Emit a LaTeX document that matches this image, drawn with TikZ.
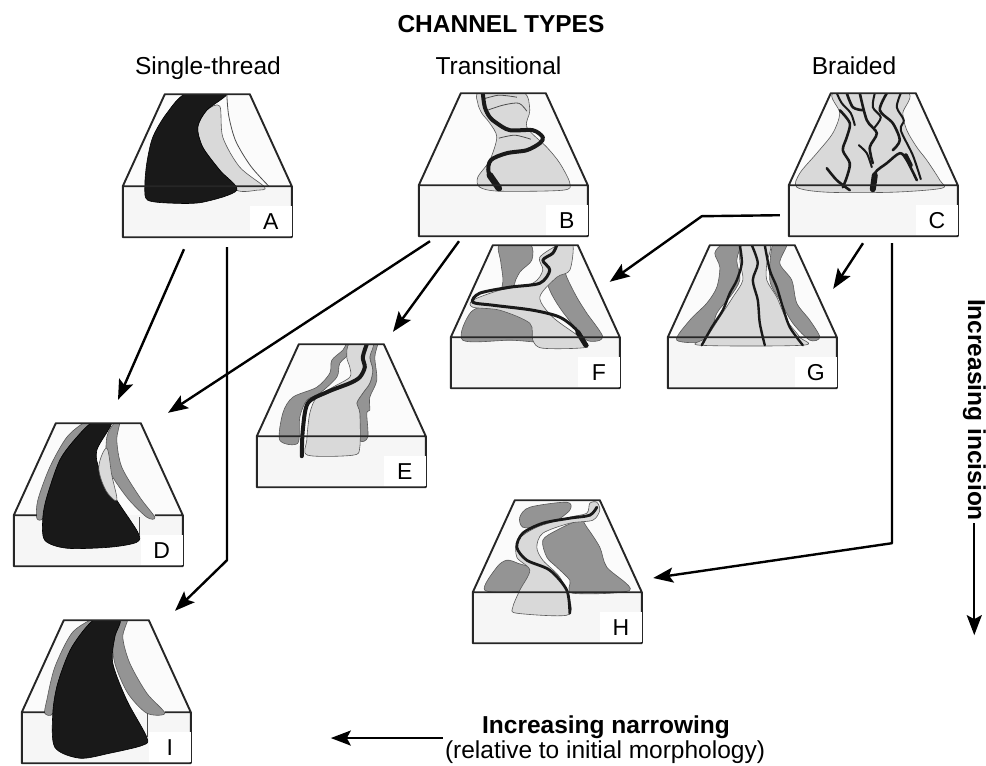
\documentclass[tikz,border=0pt]{standalone}
\usepackage{fontspec}
\setmainfont{Liberation Sans}
\usetikzlibrary{arrows.meta}
\definecolor{topgray}{gray}{0.985}
\definecolor{facegray}{gray}{0.965}
\definecolor{beltgray}{gray}{0.85}
\definecolor{bankgray}{gray}{0.58}
\definecolor{watergray}{gray}{0.1}
\begin{document}
\begin{tikzpicture}[x=1pt, y=-1pt,
    blk/.style={minimum width=169pt, minimum height=143pt, inner sep=0pt},
    topface/.style={fill=topgray},
    frontface/.style={fill=facegray},
    blockline/.style={draw=black!85, line width=1.9pt, line join=round},
    belt/.style={fill=beltgray, draw=black!65, line width=0.6pt},
    bank/.style={fill=bankgray, draw=black!65, line width=0.6pt},
    water/.style={fill=watergray, draw=black, line width=0.6pt},
    bankline/.style={draw=black!70, line width=0.8pt},
    thread/.style={draw=watergray, line width=2.6pt, line cap=round, line join=round},
    lettertag/.style={fill=white, minimum width=42pt, minimum height=30pt, inner sep=0pt, font=\fontsize{23}{23}\selectfont},
    heading/.style={inner sep=2pt, anchor=base, font=\fontsize{24.5}{25}\selectfont},
    flow/.style={-{Stealth[length=20pt, width=15pt, inset=4pt]}, line width=2.4pt, line join=round}]
  \useasboundingbox (0,0) rectangle (986,766);

  \node[heading, font=\fontsize{24.5}{25}\selectfont\bfseries] (title) at (501,32) {CHANNEL TYPES};
  \node[heading] (single) at (208,74) {Single-thread};
  \node[heading] (trans) at (498.5,74) {Transitional};
  \node[heading] (braid) at (854,74) {Braided};

  \node[blk] (A) at (207.5,165.5) {};
  \begin{scope}[shift={([yshift=51pt]A.south west)}]
    \fill[topface] (0,0) -- (42,-92) -- (127,-92) -- (169,0) -- cycle;
    \fill[frontface] (0,0) rectangle (169,51);
    \begin{scope}
      \clip (0,0) -- (42,-92) -- (127,-92) -- (169,0) -- (169,51) -- (0,51) -- cycle;
      \filldraw[belt] plot[smooth cycle, tension=0.5] coordinates {(84,-76) (97,-80) (100,-49) (117,-19) (142,1) (134,4) (114,4) (97,-16) (80,-39) (75,-59)};
      \filldraw[water] plot[smooth cycle, tension=0.5] coordinates {(64,-93) (44,-73) (30,-49) (24,-23) (22,1) (25,14) (50,17) (80,16) (114,4) (97,-16) (80,-39) (75,-59) (84,-76) (104,-93)};
      \draw[bankline] plot[smooth, tension=0.5] coordinates {(104,-92) (106,-70) (113,-45) (128,-20) (146,0)};
    \end{scope}
    \draw[blockline] (0,0) -- (42,-92) -- (127,-92) -- (169,0) (0,0) rectangle (169,51);
    \node[lettertag] (A-tag) at (148,35) {A};
  \end{scope}

  \node[blk] (B) at (503.5,164.5) {};
  \begin{scope}[shift={([yshift=51pt]B.south west)}]
    \fill[topface] (0,0) -- (42,-92) -- (127,-92) -- (169,0) -- cycle;
    \fill[frontface] (0,0) rectangle (169,51);
    \begin{scope}
      \clip (0,0) -- (42,-92) -- (127,-92) -- (169,0) -- (169,51) -- (0,51) -- cycle;
      \filldraw[belt] plot[smooth cycle, tension=0.5] coordinates {(61,-93) (104,-93) (111,-75) (108,-58) (128,-38) (141,-22) (151,-2) (144,5) (81,6) (61,2) (59,-8) (71,-25) (78,-48) (71,-62) (63,-72) (59,-82)};
      \draw[bankline] plot[smooth, tension=0.5] coordinates {(66,-74) (84,-80) (100,-82) (108,-74)};
      \draw[bankline] plot[smooth, tension=0.5] coordinates {(80,-47) (96,-50) (112,-46)};
      \draw[bankline] plot[smooth, tension=0.5] coordinates {(64,-86) (80,-90) (98,-88)};
      \draw[thread, line width=4pt] plot[smooth, tension=0.5] coordinates {(81,4) (70,-12) (72,-25) (88,-32) (108,-35) (121,-42) (124,-48) (114,-55) (91,-55) (78,-62) (71,-68) (66,-78) (64,-92)};
      \draw[thread, line width=6.5pt] (80,3) -- (71,-10);
    \end{scope}
    \draw[blockline] (0,0) -- (42,-92) -- (127,-92) -- (169,0) (0,0) rectangle (169,51);
    \node[lettertag] (B-tag) at (148,35) {B};
  \end{scope}

  \node[blk] (C) at (873.5,164.5) {};
  \begin{scope}[shift={([yshift=51pt]C.south west)}]
    \fill[topface] (0,0) -- (42,-92) -- (127,-92) -- (169,0) -- cycle;
    \fill[frontface] (0,0) rectangle (169,51);
    \begin{scope}
      \clip (0,0) -- (42,-92) -- (127,-92) -- (169,0) -- (169,51) -- (0,51) -- cycle;
      \filldraw[belt] plot[smooth cycle, tension=0.5] coordinates {(46,-93) (51,-72) (44,-52) (28,-32) (11,-12) (8,2) (38,7) (104,7) (153,3) (151,-5) (138,-25) (128,-38) (118,-55) (114,-72) (118,-93)};
      \draw[thread] plot[smooth] coordinates {(38,-17) (48,-5) (61,5)};
      \draw[thread] plot[smooth] coordinates {(51,-75) (61,-62) (58,-48) (54,-35) (61,-22) (58,-8) (54,2)};
      \draw[thread] plot[smooth] coordinates {(84,5) (86,-12) (98,-22) (111,-32) (118,-25) (128,-5)};
      \draw[thread] plot[smooth] coordinates {(71,-92) (78,-65) (88,-52) (81,-38) (84,-22)};
      \draw[thread] plot[smooth] coordinates {(98,-92) (91,-75) (104,-62) (111,-45) (104,-35)};
      \draw[thread] plot[smooth] coordinates {(58,-92) (64,-78) (74,-75)};
      \draw[thread, line width=2pt] plot[smooth] coordinates {(48,-92) (53,-82) (62,-72) (66,-60)};
      \draw[thread, line width=2pt] plot[smooth] coordinates {(86,-92) (84,-78) (92,-68) (86,-58)};
      \draw[thread, line width=2pt] plot[smooth] coordinates {(112,-92) (108,-78) (115,-65) (112,-55) (124,-30) (132,-6)};
      \draw[thread, line width=2pt] plot[smooth] coordinates {(70,-40) (78,-32) (83,-18)};
      \draw[thread, line width=6pt] (84,4) -- (86,-10);
      \draw[thread, line width=4pt] (117,-30) -- (122,-20);
    \end{scope}
    \draw[blockline] (0,0) -- (42,-92) -- (127,-92) -- (169,0) (0,0) rectangle (169,51);
    \node[lettertag] (C-tag) at (148,35) {C};
  \end{scope}

  \node[blk] (D) at (98.5,494.5) {};
  \begin{scope}[shift={([yshift=51pt]D.south west)}]
    \fill[topface] (0,0) -- (42,-92) -- (127,-92) -- (169,0) -- cycle;
    \fill[frontface] (0,0) rectangle (169,51);
    \begin{scope}
      \clip (0,0) -- (42,-92) -- (127,-92) -- (169,0) -- (169,51) -- (0,51) -- cycle;
      \filldraw[bank] plot[smooth cycle, tension=0.5] coordinates {(71,-93) (53,-78) (36,-48) (24,-15) (23,3) (29,3) (33,-18) (46,-55) (63,-78) (79,-93)};
      \filldraw[bank] plot[smooth cycle, tension=0.5] coordinates {(101,-93) (93,-78) (94,-48) (113,-18) (133,2) (141,2) (126,-18) (108,-48) (103,-75) (106,-93)};
      \filldraw[water] plot[smooth cycle, tension=0.5] coordinates {(79,-93) (63,-78) (46,-55) (33,-18) (29,3) (31,25) (53,33) (96,32) (123,27) (124,17) (103,-15) (86,-45) (83,-65) (98,-93)};
      \filldraw[belt] plot[smooth cycle, tension=0.6] coordinates {(93,-67) (85,-48) (92,-25) (103,-15) (98,-40)};
      \draw[bankline] (126,2) -- (126,20);
    \end{scope}
    \draw[blockline] (23,0) -- (0,0) -- (42,-92) -- (127,-92) -- (169,0) -- (141,0) (169,0) -- (169,51) -- (0,51) -- (0,0);
    \node[lettertag] (D-tag) at (148,35) {D};
  \end{scope}

  \node[blk] (E) at (341.5,415.5) {};
  \begin{scope}[shift={([yshift=51pt]E.south west)}]
    \fill[topface] (0,0) -- (42,-92) -- (127,-92) -- (169,0) -- cycle;
    \fill[frontface] (0,0) rectangle (169,51);
    \begin{scope}
      \clip (0,0) -- (42,-92) -- (127,-92) -- (169,0) -- (169,51) -- (0,51) -- cycle;
      \filldraw[bank] plot[smooth cycle, tension=0.5] coordinates {(23,4) (26,-23) (36,-39) (60,-49) (73,-63) (75,-76) (86,-86) (90,-93) (93,-93) (93,-83) (83,-73) (80,-59) (63,-43) (50,-36) (43,-19) (41,7)};
      \filldraw[bank] plot[smooth cycle, tension=0.5] coordinates {(103,4) (111,1) (110,-23) (113,-26) (113,-39) (120,-56) (118,-79) (121,-93) (116,-93) (113,-79) (116,-66) (113,-53) (106,-43) (100,-33) (103,-23)};
      \filldraw[belt] plot[smooth cycle, tension=0.5] coordinates {(51,19) (96,19) (103,11) (103,-23) (100,-33) (106,-43) (113,-53) (116,-66) (113,-79) (116,-93) (93,-93) (90,-79) (93,-69) (93,-59) (76,-49) (60,-39) (53,-23) (50,4)};
      \draw[thread, line width=4pt] plot[smooth, tension=0.5] coordinates {(45,20) (46,-6) (51,-33) (70,-44) (93,-53) (103,-59) (108,-69) (106,-79) (110,-92)};
    \end{scope}
    \draw[blockline] (0,0) -- (42,-92) -- (127,-92) -- (169,0) (0,0) rectangle (169,51);
    \node[lettertag] (E-tag) at (148,35) {E};
  \end{scope}

  \node[blk] (F) at (535.5,316.5) {};
  \begin{scope}[shift={([yshift=51pt]F.south west)}]
    \fill[topface] (0,0) -- (42,-92) -- (127,-92) -- (169,0) -- cycle;
    \fill[frontface] (0,0) rectangle (169,51);
    \begin{scope}
      \clip (0,0) -- (42,-92) -- (127,-92) -- (169,0) -- (169,51) -- (0,51) -- cycle;
      \filldraw[bank] plot[smooth cycle, tension=0.5] coordinates {(49,-93) (79,-93) (81,-77) (69,-65) (64,-50) (80,-35) (95,-20) (110,-5) (118,3) (90,5) (60,3) (12,3) (20,-25) (45,-37) (52,-55) (50,-75)};
      \filldraw[bank] plot[smooth cycle, tension=0.5] coordinates {(96,-60) (109,-80) (116,-60) (126,-40) (136,-24) (152,0) (136,3) (116,-20) (106,-34) (99,-47)};
      \filldraw[belt] plot[smooth cycle, tension=0.5] coordinates {(22,-37) (49,-47) (82,-54) (92,-67) (89,-80) (109,-93) (122,-93) (119,-67) (106,-60) (89,-40) (102,-20) (129,0) (136,10) (92,11) (82,3) (79,-14) (49,-27) (22,-30)};
      \draw[thread, line width=3pt] plot[smooth, tension=0.5] coordinates {(136,9) (126,-7) (109,-20) (82,-27) (42,-32) (22,-35) (29,-44) (59,-50) (89,-54) (99,-67) (92,-77) (102,-84) (106,-92)};
      \draw[thread, line width=5pt] (135,8) -- (127,-5);
    \end{scope}
    \draw[blockline] (0,0) -- (42,-92) -- (127,-92) -- (169,0) (0,0) rectangle (169,51);
    \node[lettertag] (F-tag) at (148,35) {F};
  \end{scope}

  \node[blk] (G) at (752.5,316.5) {};
  \begin{scope}[shift={([yshift=51pt]G.south west)}]
    \fill[topface] (0,0) -- (42,-92) -- (127,-92) -- (169,0) -- cycle;
    \fill[frontface] (0,0) rectangle (169,51);
    \begin{scope}
      \clip (0,0) -- (42,-92) -- (127,-92) -- (169,0) -- (169,51) -- (0,51) -- cycle;
      \filldraw[bank] plot[smooth cycle, tension=0.5] coordinates {(9,3) (22,-17) (39,-34) (49,-50) (52,-70) (47,-84) (55,-93) (72,-93) (69,-77) (72,-57) (62,-40) (49,-24) (39,3)};
      \filldraw[bank] plot[smooth cycle, tension=0.5] coordinates {(105,-93) (119,-93) (112,-74) (124,-57) (129,-34) (142,-17) (152,0) (142,3) (125,-14) (112,-37) (102,-57)};
      \filldraw[belt] plot[smooth cycle, tension=0.5] coordinates {(32,8) (135,8) (132,0) (119,-17) (109,-40) (99,-57) (99,-74) (102,-93) (75,-93) (72,-77) (75,-57) (65,-40) (52,-20) (39,0)};
      \draw[thread, line width=2.4pt] plot[smooth] coordinates {(34,8) (44,-10) (55,-27) (62,-44) (69,-57) (74,-74) (72,-92)};
      \draw[thread, line width=2.4pt] plot[smooth] coordinates {(97,8) (92,-14) (90,-37) (85,-57) (90,-74) (84,-92)};
      \draw[thread, line width=2.4pt] plot[smooth] coordinates {(135,8) (122,-10) (115,-30) (109,-50) (102,-67) (97,-92)};
    \end{scope}
    \draw[blockline] (0,0) -- (42,-92) -- (127,-92) -- (169,0) (0,0) rectangle (169,51);
    \node[lettertag] (G-tag) at (148,35) {G};
  \end{scope}

  \node[blk] (H) at (557.5,571.5) {};
  \begin{scope}[shift={([yshift=51pt]H.south west)}]
    \fill[topface] (0,0) -- (42,-92) -- (127,-92) -- (169,0) -- cycle;
    \fill[frontface] (0,0) rectangle (169,51);
    \begin{scope}
      \clip (0,0) -- (42,-92) -- (127,-92) -- (169,0) -- (169,51) -- (0,51) -- cycle;
      \filldraw[bank] plot[smooth cycle, tension=0.5] coordinates {(12,-2) (24,-25) (34,-32) (45,-29) (60,-22) (50,-2)};
      \filldraw[bank] plot[smooth cycle, tension=0.5] coordinates {(47,-75) (57,-85) (94,-90) (97,-82) (80,-69) (67,-65) (50,-65)};
      \filldraw[bank] plot[smooth cycle, tension=0.5] coordinates {(70,-52) (84,-62) (107,-72) (114,-65) (127,-45) (134,-25) (157,-2) (100,1) (97,-12) (84,-25) (74,-35)};
      \filldraw[belt] plot[smooth cycle, tension=0.5] coordinates {(44,21) (94,23) (97,8) (87,-15) (70,-32) (64,-45) (70,-59) (97,-69) (120,-72) (127,-82) (124,-90) (117,-89) (114,-79) (97,-75) (64,-65) (45,-52) (44,-35) (57,-22) (47,-2) (40,15)};
      \draw[thread, line width=2.8pt] plot[smooth, tension=0.5] coordinates {(97,21) (94,-2) (77,-22) (54,-32) (44,-45) (50,-59) (70,-69) (97,-74) (117,-77) (124,-85)};
    \end{scope}
    \draw[blockline] (0,0) -- (42,-92) -- (127,-92) -- (169,0) (0,0) rectangle (169,51);
    \node[lettertag] (H-tag) at (148,35) {H};
  \end{scope}

  \node[blk] (I) at (106.5,691.5) {};
  \begin{scope}[shift={([yshift=51pt]I.south west)}]
    \fill[topface] (0,0) -- (42,-92) -- (127,-92) -- (169,0) -- cycle;
    \fill[frontface] (0,0) rectangle (169,51);
    \begin{scope}
      \clip (0,0) -- (42,-92) -- (127,-92) -- (169,0) -- (169,51) -- (0,51) -- cycle;
      \filldraw[bank] plot[smooth cycle, tension=0.5] coordinates {(70,-93) (50,-79) (33,-45) (25,-12) (23,1) (31,1) (36,-29) (50,-65) (73,-93)};
      \filldraw[bank] plot[smooth cycle, tension=0.5] coordinates {(100,-93) (91,-75) (93,-49) (106,-19) (125,1) (143,1) (125,-19) (108,-49) (101,-75) (106,-93)};
      \filldraw[water] plot[smooth cycle, tension=0.5] coordinates {(73,-93) (50,-65) (36,-29) (31,1) (33,35) (58,46) (88,41) (121,33) (125,25) (105,-12) (91,-49) (93,-75) (98,-93)};
      \draw[bankline] (126,1) -- (126,25);
    \end{scope}
    \draw[blockline] (23,0) -- (0,0) -- (42,-92) -- (127,-92) -- (169,0) -- (143,0) (169,0) -- (169,51) -- (0,51) -- (0,0);
    \node[lettertag] (I-tag) at (148,35) {I};
  \end{scope}

  \draw[flow] ([shift={(-23.5,12)}]A.south) -- ([shift={(19.5,-23)}]D.north);
  \draw[flow] ([shift={(19.5,10)}]A.south) -- ++(0,313) -- ([shift={(68.5,-9)}]I.north);
  \draw[flow] ([shift={(-73.5,5)}]B.south) -- ([shift={(69.5,-10)}]D.north);
  \draw[flow] ([shift={(-44.5,5)}]B.south) -- ([shift={(51.5,-12)}]E.north);
  \draw[flow] ([shift={(-9,-21)}]C.south west) -- ++(-78,1) -- ([shift={(-10.5,37)}]F.north east);
  \draw[flow] ([shift={(-10.5,7)}]C.south) -- ([shift={(-4,44)}]G.north east);
  \draw[flow] ([shift={(18.5,7)}]C.south) -- ++(0,300) -- ([shift={(11,6.5)}]H.east);

  \node[heading, font=\fontsize{24.5}{25}\selectfont\bfseries] (narrow) at (606,733) {Increasing narrowing};
  \node[heading] (relmorph) at (605,758) {(relative to initial morphology)};
  \draw[flow] (relmorph.north west) -- ++(-112,0);

  \node[heading, rotate=-90, font=\fontsize{24.5}{25}\selectfont\bfseries] (incision) at (968,410) {Increasing incision};
  \draw[flow] (incision.east) -- ++(0,112);
\end{tikzpicture}
\end{document}
